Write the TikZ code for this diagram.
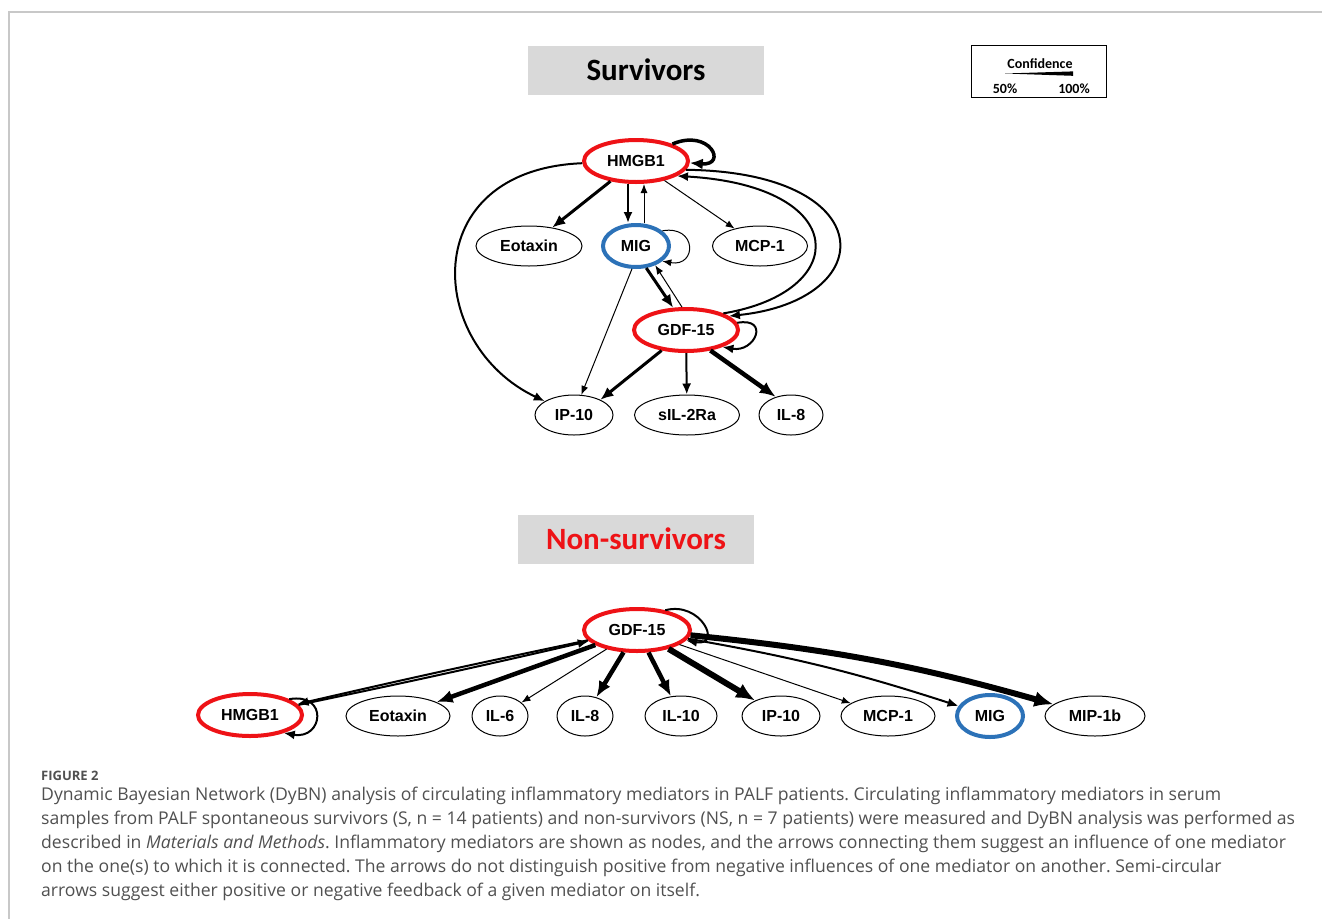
\documentclass[tikz,border=0pt]{standalone}
\usepackage{fontspec}
\setmainfont{Open Sans}
\newfontfamily\arialfam{Liberation Sans}
\newfontfamily\calfam{Carlito}
\usetikzlibrary{shapes.geometric,arrows.meta,positioning}

\definecolor{medred}{RGB}{238,18,22}
\definecolor{medblue}{RGB}{44,114,184}
\definecolor{boxgray}{RGB}{217,217,217}
\definecolor{framegray}{RGB}{200,200,200}
\definecolor{captext}{RGB}{80,80,80}

\newcommand{\medfont}{\arialfam\bfseries\fontsize{16}{18}\selectfont}
\newcommand{\legfont}{\calfam\bfseries\fontsize{14}{16}\selectfont}

\tikzset{
	mediator/.style={ellipse, draw, line width=1pt, inner sep=0pt,
		minimum height=40pt, font=\medfont},
	hubred/.style={mediator, draw=medred, line width=4pt, minimum height=42pt},
	hubblue/.style={mediator, draw=medblue, line width=4pt, minimum height=42pt},
	titlebox/.style={fill=boxgray, minimum width=236pt, minimum height=49pt,
		font=\calfam\bfseries\fontsize{31}{34}\selectfont},
	captionline/.style={anchor=base west, inner sep=0pt, text=captext,
		font=\frenchspacing\fontsize{17.6}{20}\selectfont},
	wa/.style={line width=1pt, -{Latex[length=9pt,width=7pt]}},
	wb/.style={line width=2pt, -{Latex[length=11pt,width=9pt]}},
	wc/.style={line width=3pt, -{Latex[length=13pt,width=11pt]}},
	wd/.style={line width=4.5pt, -{Latex[length=16pt,width=13pt]}},
	we/.style={line width=6pt, -{Latex[length=19pt,width=16pt]}},
}

\begin{document}
\begin{tikzpicture}[x=1pt,y=-1pt]
	\useasboundingbox (0,0) rectangle (1322,919);
	% page frame
	\draw[framegray, line width=1.5pt] (1322,12) -- (9,12) -- (9,919);

	% survivors
	\node[titlebox] (tsurv) at (646,70) {Survivors};
	\node[hubred, minimum width=104pt] (sh) at (636,161) {HMGB1};
	\node[mediator, minimum width=106pt] (se) at (529,246) {Eotaxin};
	\node[hubblue, minimum width=66pt] (sm) at (636,246) {MIG};
	\node[mediator, minimum width=95pt] (sc) at (760,246) {MCP-1};
	\node[hubred, minimum width=104pt] (sg) at (686,330) {GDF-15};
	\node[mediator, minimum width=78pt] (sip) at (574,415) {IP-10};
	\node[mediator, minimum width=105pt] (ss) at (687,415) {sIL-2Ra};
	\node[mediator, minimum width=64pt] (sil) at (791,415) {IL-8};

	\draw[wc] (sh) -- (se);
	\draw[wb] ([xshift=-8pt]sh.south) -- ([xshift=-8pt]sm.north);
	\draw[wa] ([xshift=8pt]sm.north) -- ([xshift=8pt]sh.south);
	\draw[wa] (sh) -- (sc);
	\draw[wb] (sh) .. controls (416,170) and (426,345) .. (sip);
	\draw[wb] (sh.-10) .. controls (882,172) and (882,300) .. (sg.18);
	\draw[wb] (sg.24) .. controls (852,292) and (852,186) .. (sh.-20);
	\draw[line width=3.5pt, -{Latex[length=13pt,width=11pt]}] (sh.25) .. controls (710,128) and (728,166) .. (sh.-2);
	\draw[wa] (sm.30) to[out=10,in=-10,looseness=3] (sm.-30);
	\draw[wc] (sm.-65) -- (sg.120);
	\draw[wa] (sg.100) -- (sm.-45);
	\draw[wa] (sm.-100) -- (sip.70);
	\draw[wc] (sg.-140) -- (sip.30);
	\draw[wb] (sg) -- (ss);
	\draw[wd] (sg.-40) -- (sil.130);
	\draw[wb] (sg.8) to[out=10,in=-10,looseness=3] (sg.-25);

	% confidence legend
	\node[draw, line width=1.2pt, minimum width=135pt, minimum height=52pt] (lgd) at (1039,71.5) {};
	\node[font=\legfont] (lgdt) at (1040,64) {Confidence};
	\fill (1005,73.5) -- (1073,71.4) -- (1073,75.8) -- cycle;
	\node[font=\legfont] (lgdlo) at (1005,89) {50\%};
	\node[font=\legfont] (lgdhi) at (1074,89) {100\%};

	% non-survivors
	\node[titlebox, text=medred] (tnon) at (636,539) {Non-survivors};
	\node[hubred, minimum width=106pt] (ng) at (637,630) {GDF-15};
	\node[hubred, minimum width=104pt] (nh) at (250,715) {HMGB1};
	\node[mediator, minimum width=104pt] (ne) at (398,716) {Eotaxin};
	\node[mediator, minimum width=56pt] (n6) at (500,716) {IL-6};
	\node[mediator, minimum width=56pt] (n8) at (585,716) {IL-8};
	\node[mediator, minimum width=72pt] (n10) at (681,716) {IL-10};
	\node[mediator, minimum width=78pt] (nip) at (781,716) {IP-10};
	\node[mediator, minimum width=94pt] (nc) at (888,716) {MCP-1};
	\node[hubblue, minimum width=66pt] (nm) at (990,716) {MIG};
	\node[mediator, minimum width=100pt] (nmip) at (1095,716) {MIP-1b};

	\draw[wb] (ng) to[bend right=0.6] (nh);
	\draw[wb] (nh) to[bend right=0.6] (ng);
	\draw[wb] (nh.22) to[out=10,in=-10,looseness=3] (nh.-28);
	\draw[wd] (ng) -- (ne);
	\draw[wa] (ng) -- (n6);
	\draw[wd] (ng) -- (n8);
	\draw[wd] (ng) -- (n10);
	\draw[we] (ng) -- (nip);
	\draw[wa] (ng) -- (nc);
	\draw[wb] (ng) to[bend left=4] (nm);
	\draw[we] (ng) to[bend left=5] (nmip);
	\draw[wb] (ng.35) to[out=15,in=-10,looseness=2.6] (ng.-12);

	% caption
	\node[anchor=base west, inner sep=0pt, text=captext, font=\bfseries\fontsize{13}{15}\selectfont] (cfig) at (41,780) {FIGURE 2};
	\node[captionline] (c1) at (41,800) {Dynamic Bayesian Network (DyBN) analysis of circulating inflammatory mediators in PALF patients. Circulating inflammatory mediators in serum};
	\node[captionline] (c2) at (41,824) {samples from PALF spontaneous survivors (S, n = 14 patients) and non-survivors (NS, n = 7 patients) were measured and DyBN analysis was performed as};
	\node[captionline] (c3) at (41,848) {described in \textit{Materials and Methods}. Inflammatory mediators are shown as nodes, and the arrows connecting them suggest an influence of one mediator};
	\node[captionline] (c4) at (41,872) {on the one(s) to which it is connected. The arrows do not distinguish positive from negative influences of one mediator on another. Semi-circular};
	\node[captionline] (c5) at (41,896) {arrows suggest either positive or negative feedback of a given mediator on itself.};
\end{tikzpicture}
\end{document}
